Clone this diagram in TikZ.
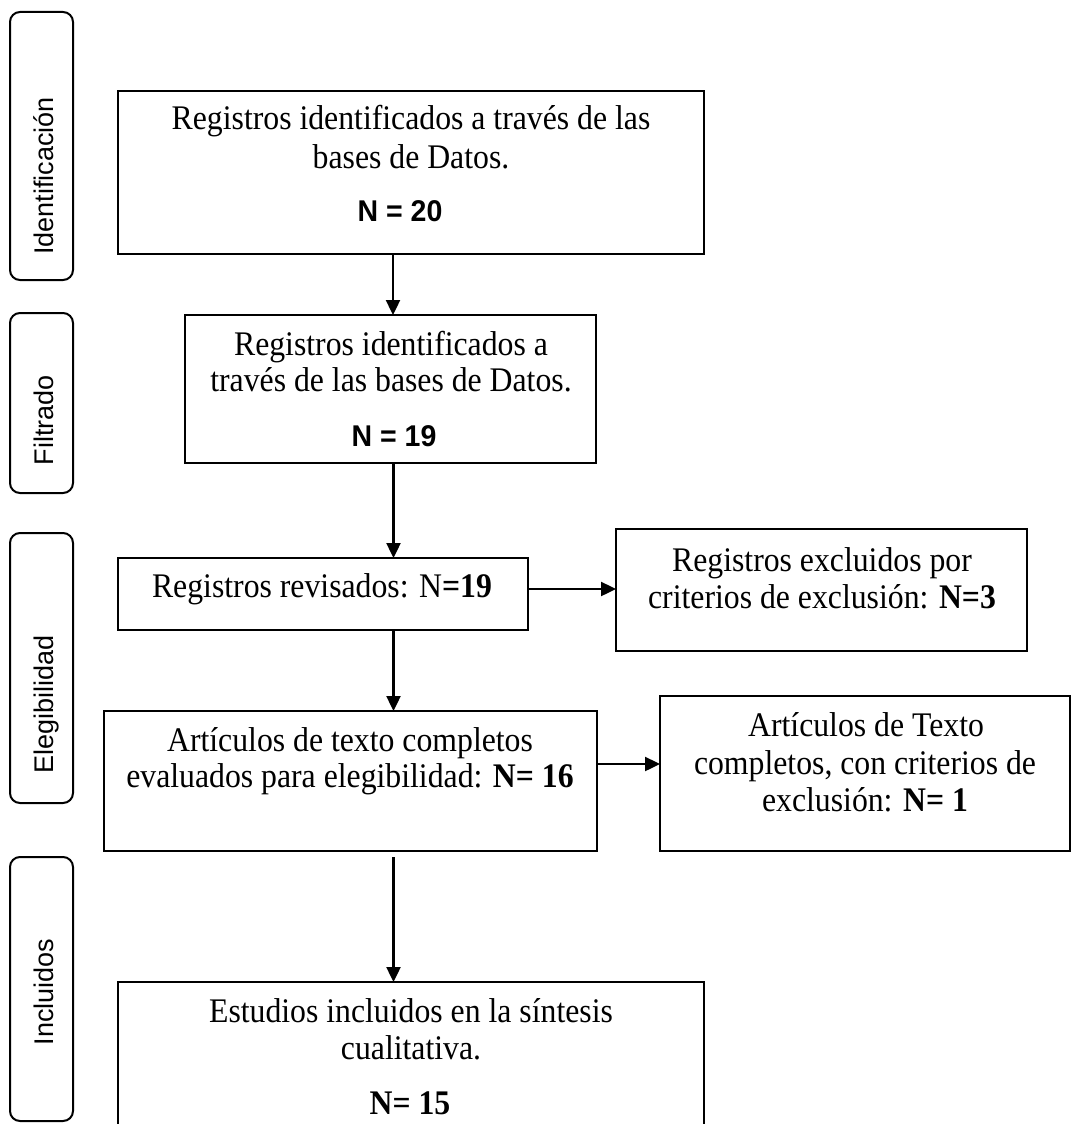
\documentclass[tikz,border=0pt]{standalone}
\usepackage{fontspec}
\setmainfont{Liberation Serif}[FakeStretch=0.92]
\setsansfont{Liberation Sans}
\newfontfamily\nsansfont{Liberation Sans}[FakeStretch=0.95]
\usetikzlibrary{arrows.meta,calc}
\begin{document}
\begin{tikzpicture}[x=1pt,y=-1pt,
  box/.style={draw,line width=2pt,inner sep=0pt,outer sep=0pt,rectangle},
  side/.style={draw,line width=2pt,inner sep=0pt,outer sep=0pt,rounded corners=10pt,minimum width=63pt},
  sidelbl/.style={rotate=90,anchor=base,inner sep=0pt,font=\sffamily\fontsize{27}{31}\selectfont},
  txt/.style={anchor=base,inner sep=0pt,font=\fontsize{34.5}{40}\selectfont},
  nsans/.style={anchor=base,inner sep=0pt,font=\nsansfont\bfseries\fontsize{30}{34}\selectfont},
  arr/.style={line width=2.4pt,-{Triangle[length=15pt,width=14pt]}}]
\useasboundingbox (0,0) rectangle (1072,1124);
\clip (0,0) rectangle (1072,1124);
% side labels
\node[side,minimum height=268pt] (s1) at (41.5,146) {};
\node[side,minimum height=180pt] (s2) at (41.5,403) {};
\node[side,minimum height=270pt] (s3) at (41.5,668) {};
\node[side,minimum height=264pt] (s4) at (41.5,989) {};
\node[sidelbl] (l1) at (53,176) {Identificación};
\node[sidelbl] (l2) at (53,420) {Filtrado};
\node[sidelbl] (l3) at (53,704) {Elegibilidad};
\node[sidelbl] (l4) at (53,992) {Incluidos};
% boxes
\node[box,minimum width=586pt,minimum height=163pt] (b1) at (411,172.5) {};
\node[box,minimum width=411pt,minimum height=148pt] (b2) at (390.5,389) {};
\node[box,minimum width=410pt,minimum height=72pt] (b3) at (323,594) {};
\node[box,minimum width=411pt,minimum height=122pt] (b4) at (821.5,590) {};
\node[box,minimum width=493pt,minimum height=140pt] (b5) at (350.5,781) {};
\node[box,minimum width=410pt,minimum height=155pt] (b6) at (865,773.5) {};
\node[box,minimum width=586pt,minimum height=178pt] (b7) at (411,1071) {};
% texts
\node[txt] (t1a) at (411,129) {Registros identificados a través de las};
\node[txt] (t1b) at (411,168) {bases de Datos.};
\node[nsans] (t1c) at (400,221) {N = 20};
\node[txt] (t2a) at (391,355) {Registros identificados a};
\node[txt] (t2b) at (391,391) {través de las bases de Datos.};
\node[nsans] (t2c) at (394,446) {N = 19};
\node[txt] (t3) at (322,597) {Registros revisados: N\textbf{=19}};
\node[txt] (t4a) at (822,571) {Registros excluidos por};
\node[txt] (t4b) at (822,608) {criterios de exclusión: \textbf{N=3}};
\node[txt] (t5a) at (350,751) {Artículos de texto completos};
\node[txt] (t5b) at (350,787) {evaluados para elegibilidad: \textbf{N= 16}};
\node[txt] (t6a) at (866,736) {Artículos de Texto};
\node[txt] (t6b) at (865,774) {completos, con criterios de};
\node[txt] (t6c) at (865,811) {exclusión: \textbf{N= 1}};
\node[txt] (t7a) at (411,1022) {Estudios incluidos en la síntesis};
\node[txt] (t7b) at (411,1059) {cualitativa.};
\node[txt] (t7c) at (410,1114) {\textbf{N= 15}};
% arrows
\draw[arr] ([xshift=2.5pt]b2.north |- b1.south) -- ([xshift=2.5pt]b2.north);
\draw[arr] ([xshift=3pt]b2.south) -- ([xshift=3pt]b2.south |- b3.north);
\draw[arr] ([xshift=3pt]b2.south |- b3.south) -- ([xshift=3pt]b2.south |- b5.north);
\draw[arr,shorten <=6pt] ([xshift=3pt]b2.south |- b5.south) -- ([xshift=3pt]b2.south |- b7.north);
\draw[arr] ([yshift=5pt]b3.east) -- ([yshift=5pt]b3.east -| b4.west);
\draw[arr] ([yshift=17pt]b5.east) -- ([yshift=17pt]b5.east -| b6.west);
\end{tikzpicture}
\end{document}
